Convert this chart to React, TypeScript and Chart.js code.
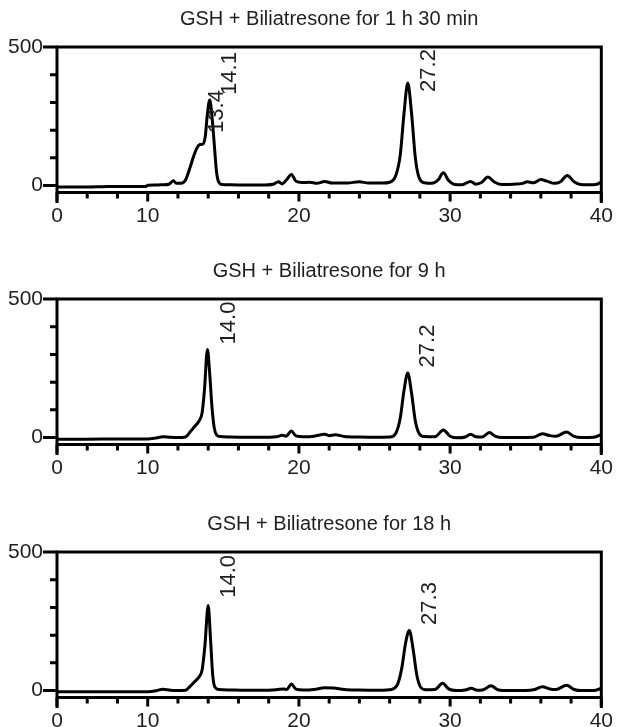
import React, { useEffect, useRef } from 'react';
import { Chart, registerables } from 'chart.js';

Chart.register(...registerables);

// ---------- data ----------
const panelTitles = [
  'GSH + Biliatresone for 1 h 30 min',
  'GSH + Biliatresone for 9 h',
  'GSH + Biliatresone for 18 h',
];

// Panel 1: 1 h 30 min
const time1 = [4, 5, 6, 7, 8, 9, 9.9, 10.0, 10.5, 11.0, 11.4, 11.7, 11.9, 12.2, 12.5, 12.8, 13.0, 13.25, 13.45, 13.65, 13.8, 13.95, 14.1, 14.25, 14.4, 14.55, 14.7, 14.9, 15.5, 16.5, 17.5, 18.3, 18.65, 18.9, 19.2, 19.5, 19.8, 20.2, 20.7, 21.2, 21.7, 22.2, 23.2, 24.0, 24.6, 25.5, 26.0, 26.4, 26.7, 26.95, 27.2, 27.45, 27.7, 27.95, 28.3, 28.8, 29.2, 29.55, 29.9, 30.3, 30.8, 31.35, 31.7, 32.1, 32.5, 32.9, 33.4, 34.2, 34.8, 35.1, 35.5, 36.0, 36.4, 36.9, 37.3, 37.75, 38.2, 38.6, 39.2, 39.7, 40];
const signal1 = [-5, -5, -5, -4, -3, -3, -3, 1, 2, 3, 5, 17, 8, 8, 20, 65, 100, 135, 148, 150, 175, 260, 309, 250, 150, 50, 12, 4, 3, 2, 2, 5, 14, 6, 22, 40, 16, 11, 12, 8, 15, 9, 9, 14, 9, 9, 12, 35, 110, 260, 370, 260, 100, 28, 10, 8, 20, 46, 18, 4, 3, 15, 5, 12, 31, 14, 4, 5, 8, 14, 10, 22, 16, 8, 14, 36, 14, 4, 3, 5, 14];

// Panel 2: 9 h
const time2 = [4, 6, 8, 10, 10.5, 11.0, 11.5, 12.0, 12.5, 12.8, 13.1, 13.4, 13.6, 13.75, 13.95, 14.1, 14.25, 14.4, 14.55, 14.8, 15.5, 16.5, 17.5, 18.5, 18.9, 19.15, 19.5, 19.8, 20.3, 21.0, 21.7, 22.0, 22.4, 23.0, 24, 25, 26.0, 26.4, 26.7, 26.95, 27.2, 27.45, 27.7, 27.95, 28.3, 29.0, 29.55, 30.0, 30.5, 31.0, 31.35, 31.7, 32.1, 32.6, 33.0, 33.5, 34.5, 35.5, 36.1, 36.6, 37.0, 37.7, 38.2, 38.7, 39.5, 40];
const signal2 = [-6, -6, -5, -5, -2, 3, 1, 0, 2, 20, 40, 60, 90, 170, 318, 230, 110, 35, 10, 4, 2, 1, 1, 3, 8, 5, 24, 6, 3, 5, 12, 7, 10, 4, 2, 1, 2, 15, 70, 170, 233, 160, 60, 15, 4, 3, 27, 5, -1, 2, 12, 3, 2, 18, 4, 0, 0, 1, 14, 7, 5, 20, 4, 0, 1, 11];

// Panel 3: 18 h
const time3 = [4, 6, 8, 10, 10.6, 11.0, 11.5, 12.0, 12.5, 12.8, 13.1, 13.4, 13.6, 13.78, 14.0, 14.15, 14.3, 14.45, 14.7, 15.5, 16.5, 17.5, 18.5, 19.0, 19.2, 19.5, 19.8, 20.3, 21.0, 21.7, 22.3, 23.0, 24, 25, 26.0, 26.5, 26.8, 27.05, 27.3, 27.55, 27.8, 28.05, 28.4, 29.0, 29.5, 29.9, 30.4, 31.0, 31.4, 31.8, 32.2, 32.7, 33.2, 33.8, 35.0, 35.6, 36.1, 36.6, 37.0, 37.7, 38.2, 38.7, 39.5, 40];
const signal3 = [-4, -4, -4, -4, 0, 5, 1, 0, 1, 15, 32, 50, 75, 160, 307, 190, 55, 12, 4, 2, 1, 1, 3, 6, 4, 24, 5, 2, 4, 10, 9, 4, 2, 1, 3, 20, 80, 170, 217, 150, 55, 12, 3, 4, 26, 6, 0, 2, 8, 1, 3, 17, 2, 0, 0, 4, 14, 6, 4, 19, 4, 0, 0, 8];

// Peak annotations (text, retention-time anchor, intensity anchor)
const peakText1 = ['14.1', '13.4', '27.2'];
const peakX1 = [15.47, 14.6, 28.57];
const peakY1 = [327, 190, 338];
const peakText2 = ['14.0', '27.2'];
const peakX2 = [15.35, 28.55];
const peakY2 = [336, 253];
const peakText3 = ['14.0', '27.3'];
const peakX3 = [15.4, 28.65];
const peakY3 = [335, 237];

// Axis ticks
const xTickValues = [4, 10, 20, 30, 40];
const xTickLabels = ['0', '10', '20', '30', '40'];
const xMinorTicks = [6, 8, 12, 14, 16, 18, 22, 24, 26, 28, 32, 34, 36, 38];
const yTickValues = [0, 500];
const yTickLabels = ['0', '500'];
const yMinorTicks = [100, 200, 300, 400];
const xMin = 4;
const xMax = 40;
const yMin = -25;
const yMax = 500;

// ---------- styling ----------
const FONT = '"Liberation Sans", Arial, Helvetica, sans-serif';
const TEXT_COLOR = '#1e1e1e';
const CANVAS_W = 624;
const CANVAS_H = 222;
const PANEL_TOPS = [0, 252, 505];

const decorPlugin = {
  id: 'decor',
  afterDraw(chart: any, _args: any, opts: any) {
    const { ctx, chartArea: a, scales } = chart;
    const xs = scales.x;
    const ys = scales.y;
    ctx.save();
    ctx.strokeStyle = '#000';
    ctx.lineWidth = 3;
    // frame
    ctx.lineCap = 'square';
    ctx.beginPath();
    ctx.moveTo(a.left, a.bottom + 9);
    ctx.lineTo(a.left, a.top);
    ctx.lineTo(a.right, a.top);
    ctx.lineTo(a.right, a.bottom + 9);
    ctx.moveTo(a.left, a.bottom);
    ctx.lineTo(a.right, a.bottom);
    ctx.stroke();
    ctx.lineCap = 'butt';
    // x ticks
    ctx.beginPath();
    xMinorTicks.forEach((v) => {
      const px = xs.getPixelForValue(v);
      ctx.moveTo(px, a.bottom);
      ctx.lineTo(px, a.bottom + 6);
    });
    xTickValues.forEach((v) => {
      const px = xs.getPixelForValue(v);
      ctx.moveTo(px, a.bottom);
      ctx.lineTo(px, a.bottom + 9);
    });
    // y ticks
    yMinorTicks.forEach((v) => {
      const py = ys.getPixelForValue(v);
      ctx.moveTo(a.left - 7, py);
      ctx.lineTo(a.left, py);
    });
    yTickValues.forEach((v) => {
      const py = ys.getPixelForValue(v);
      ctx.moveTo(a.left - 14, py);
      ctx.lineTo(a.left, py);
    });
    ctx.stroke();

    // title
    ctx.fillStyle = TEXT_COLOR;
    ctx.font = `20px ${FONT}`;
    ctx.textAlign = 'center';
    ctx.textBaseline = 'middle';
    ctx.fillText(opts.title, (a.left + a.right) / 2, a.top - 28);

    // peak labels (rotated)
    ctx.font = `22px ${FONT}`;
    ctx.textAlign = 'left';
    ctx.textBaseline = 'middle';
    (opts.peakText as string[]).forEach((t, i) => {
      const px = xs.getPixelForValue(opts.peakX[i]);
      const py = ys.getPixelForValue(opts.peakY[i]);
      ctx.save();
      ctx.translate(px, py);
      ctx.rotate(-Math.PI / 2);
      ctx.fillText(t, 0, 0);
      ctx.restore();
    });
    ctx.restore();
  },
};

type PanelProps = {
  title: string;
  times: number[];
  values: number[];
  peakText: string[];
  peakX: number[];
  peakY: number[];
  top: number;
};

function Panel({ title, times, values, peakText, peakX, peakY, top }: PanelProps) {
  const ref = useRef<HTMLCanvasElement | null>(null);
  useEffect(() => {
    if (!ref.current) return;
    const chart = new Chart(ref.current, {
      type: 'line',
      data: {
        datasets: [
          {
            data: times.map((t, i) => ({ x: t, y: values[i] })),
            borderColor: '#000',
            borderWidth: 3,
            pointRadius: 0,
            fill: false,
            cubicInterpolationMode: 'monotone',
          },
        ],
      },
      options: {
        responsive: false,
        animation: false,
        events: [],
        layout: { padding: { top: 47, right: 15, left: 0, bottom: 0 } },
        plugins: {
          legend: { display: false },
          tooltip: { enabled: false },
          title: { display: false },
          decor: { title, peakText, peakX, peakY },
        } as any,
        scales: {
          x: {
            type: 'linear',
            min: xMin,
            max: xMax,
            grid: { display: false, drawTicks: false },
            border: { display: false },
            afterBuildTicks: (scale: any) => {
              scale.ticks = xTickValues.map((v) => ({ value: v }));
            },
            afterFit: (scale: any) => {
              scale.height = CANVAS_H - 192.5;
            },
            ticks: {
              autoSkip: false,
              maxRotation: 0,
              padding: 11,
              color: TEXT_COLOR,
              font: { family: FONT, size: 21 },
              callback: (_v: any, i: number) => xTickLabels[i],
            },
          },
          y: {
            type: 'linear',
            min: yMin,
            max: yMax,
            grid: { display: false, drawTicks: false },
            border: { display: false },
            afterBuildTicks: (scale: any) => {
              scale.ticks = yTickValues.map((v) => ({ value: v }));
            },
            afterFit: (scale: any) => {
              scale.width = 57;
            },
            ticks: {
              autoSkip: false,
              padding: 14,
              color: TEXT_COLOR,
              font: { family: FONT, size: 21 },
              callback: (_v: any, i: number) => yTickLabels[i],
            },
          },
        },
      } as any,
      plugins: [decorPlugin],
    });
    return () => chart.destroy();
  }, [title, times, values, peakText, peakX, peakY]);

  return (
    <div style={{ position: 'absolute', left: 0, top, width: CANVAS_W, height: CANVAS_H }}>
      <canvas ref={ref} width={CANVAS_W} height={CANVAS_H} style={{ width: CANVAS_W, height: CANVAS_H, display: 'block' }} />
    </div>
  );
}

export default function App() {
  return (
    <div style={{ position: 'absolute', left: 0, top: 0, width: 624, height: 727, overflow: 'hidden', background: '#fff' }}>
      <Panel title={panelTitles[0]} times={time1} values={signal1} peakText={peakText1} peakX={peakX1} peakY={peakY1} top={PANEL_TOPS[0]} />
      <Panel title={panelTitles[1]} times={time2} values={signal2} peakText={peakText2} peakX={peakX2} peakY={peakY2} top={PANEL_TOPS[1]} />
      <Panel title={panelTitles[2]} times={time3} values={signal3} peakText={peakText3} peakX={peakX3} peakY={peakY3} top={PANEL_TOPS[2]} />
    </div>
  );
}
